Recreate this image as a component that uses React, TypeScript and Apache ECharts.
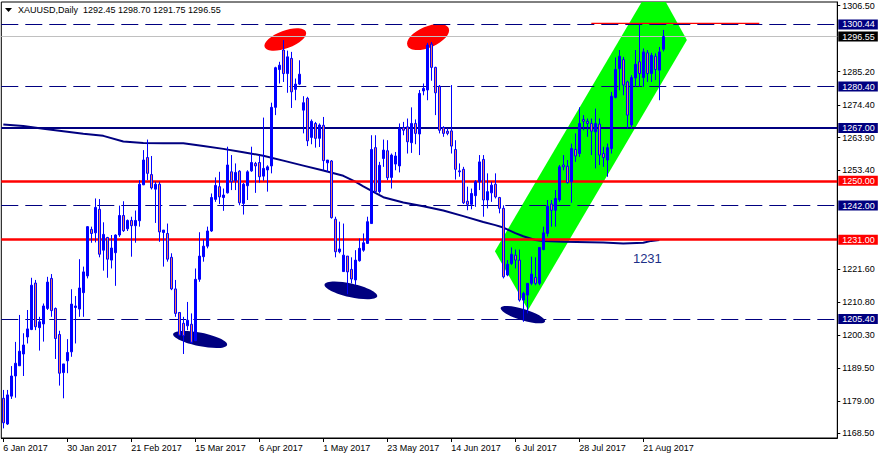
import React, { useEffect, useRef } from "react";
import * as echarts from "echarts";

// ---------- data ----------
const CLOSED_DAYS = ["2017-04-14"];
// [open, high, low, close] per trading day from 6 Jan 2017
const ohlc: [number, number, number, number][] = [
  [1179.8, 1182.5, 1170.1, 1171.9], [1171.5, 1182.5, 1171.2, 1180.9], [1180.5, 1190.2, 1179.6, 1187.0],
  [1187.0, 1198.0, 1180.0, 1191.1], [1190.3, 1206.7, 1190.3, 1195.0], [1194.1, 1200.8, 1187.0, 1197.0],
  [1199.6, 1208.3, 1197.5, 1202.2], [1202.0, 1218.7, 1201.8, 1216.3], [1217.0, 1218.0, 1201.8, 1202.9],
  [1202.6, 1206.1, 1195.2, 1204.5], [1203.8, 1210.4, 1198.1, 1209.6], [1208.8, 1219.0, 1208.3, 1217.3],
  [1218.5, 1219.9, 1206.1, 1208.1], [1208.8, 1209.1, 1192.5, 1199.1], [1200.4, 1201.6, 1183.9, 1187.9],
  [1188.1, 1190.9, 1179.8, 1190.9], [1191.9, 1198.9, 1187.9, 1194.6], [1194.8, 1215.0, 1193.2, 1210.2],
  [1209.1, 1212.8, 1197.5, 1209.6], [1208.6, 1224.7, 1206.1, 1215.4], [1213.9, 1222.3, 1206.1, 1220.6],
  [1219.3, 1235.4, 1218.5, 1235.2], [1234.3, 1235.2, 1230.0, 1233.0], [1233.2, 1244.3, 1230.1, 1241.4],
  [1240.8, 1244.1, 1225.3, 1226.3], [1227.6, 1236.6, 1221.0, 1232.7], [1231.7, 1231.9, 1218.7, 1224.7],
  [1224.4, 1232.5, 1221.7, 1228.3], [1226.8, 1232.7, 1216.1, 1232.5], [1232.5, 1242.0, 1231.9, 1238.8],
  [1238.8, 1243.4, 1233.5, 1233.9], [1234.5, 1237.5, 1233.8, 1237.2], [1237.2, 1238.4, 1225.5, 1235.5],
  [1235.5, 1240.4, 1230.0, 1237.2], [1237.1, 1250.2, 1235.2, 1248.9], [1248.7, 1259.9, 1248.6, 1256.7],
  [1257.5, 1263.3, 1250.2, 1252.4], [1252.0, 1258.0, 1247.2, 1247.7], [1247.3, 1249.7, 1236.4, 1248.9],
  [1248.9, 1249.7, 1230.3, 1233.5], [1233.3, 1234.1, 1222.3, 1234.1], [1233.0, 1236.2, 1223.9, 1224.7],
  [1225.3, 1226.6, 1214.7, 1215.1], [1215.1, 1218.0, 1206.1, 1207.2], [1207.5, 1207.5, 1200.0, 1200.2],
  [1204.0, 1206.1, 1194.1, 1200.0], [1203.2, 1210.9, 1201.8, 1205.0], [1203.7, 1207.2, 1197.5, 1197.9],
  [1198.4, 1221.7, 1198.4, 1218.2], [1218.2, 1233.4, 1217.4, 1225.7], [1225.5, 1231.1, 1223.9, 1228.9],
  [1228.9, 1235.2, 1228.2, 1233.8], [1233.8, 1245.9, 1233.5, 1244.6], [1244.0, 1251.1, 1243.2, 1248.5],
  [1248.1, 1252.9, 1242.5, 1244.8], [1244.6, 1247.5, 1240.3, 1245.4], [1246.1, 1261.0, 1245.9, 1255.1],
  [1252.9, 1258.3, 1247.0, 1249.7], [1250.0, 1255.6, 1247.0, 1252.7], [1253.1, 1253.4, 1242.1, 1242.9],
  [1242.7, 1249.3, 1239.1, 1248.9], [1248.4, 1253.4, 1243.8, 1252.9], [1253.2, 1261.0, 1252.9, 1255.9],
  [1255.6, 1256.1, 1246.1, 1254.8], [1255.9, 1258.3, 1249.4, 1251.3], [1251.5, 1270.4, 1250.0, 1254.0],
  [1253.5, 1255.0, 1246.5, 1254.5], [1254.8, 1275.2, 1252.4, 1273.7], [1273.7, 1286.8, 1271.2, 1286.5],
  [1285.9, 1288.4, 1281.4, 1287.3], [1292.2, 1295.4, 1281.9, 1284.6], [1284.6, 1292.0, 1278.4, 1290.0],
  [1289.5, 1291.6, 1273.5, 1278.7], [1279.5, 1283.0, 1276.0, 1281.2], [1281.2, 1288.9, 1280.9, 1284.4],
  [1272.8, 1277.3, 1265.3, 1275.2], [1276.6, 1277.1, 1261.2, 1262.9], [1264.0, 1269.8, 1261.8, 1269.2],
  [1268.5, 1269.0, 1260.7, 1263.7], [1263.7, 1268.5, 1260.9, 1268.0], [1267.9, 1270.6, 1253.4, 1256.5],
  [1255.8, 1256.7, 1252.9, 1256.7], [1256.4, 1256.7, 1237.8, 1238.1], [1237.6, 1238.4, 1225.3, 1227.1],
  [1227.1, 1236.8, 1226.6, 1228.0], [1220.7, 1236.2, 1220.7, 1226.0], [1225.7, 1225.7, 1213.4, 1220.6],
  [1221.4, 1225.3, 1216.9, 1218.3], [1218.0, 1227.6, 1216.3, 1224.4], [1224.2, 1231.4, 1223.9, 1228.2],
  [1227.6, 1233.0, 1227.1, 1230.0], [1229.8, 1238.4, 1229.6, 1236.8], [1236.2, 1264.7, 1236.2, 1260.1],
  [1260.7, 1264.7, 1245.9, 1246.5], [1246.5, 1256.1, 1245.9, 1255.0], [1257.2, 1263.3, 1254.5, 1259.9],
  [1259.7, 1263.1, 1250.2, 1251.0], [1251.1, 1258.8, 1247.5, 1258.3], [1255.4, 1259.3, 1253.4, 1258.0],
  [1254.8, 1268.5, 1252.7, 1266.9], [1267.2, 1269.0, 1264.7, 1266.3], [1267.4, 1270.1, 1258.8, 1262.6],
  [1262.3, 1273.7, 1259.0, 1268.5], [1268.5, 1269.8, 1261.8, 1265.3], [1265.1, 1279.3, 1258.3, 1278.2],
  [1279.0, 1281.4, 1277.6, 1279.8], [1279.3, 1294.5, 1276.0, 1293.8], [1294.1, 1294.8, 1282.3, 1286.6],
  [1286.6, 1286.8, 1271.2, 1278.4], [1280.5, 1280.9, 1265.3, 1266.3], [1267.2, 1267.6, 1264.2, 1265.3],
  [1266.0, 1267.0, 1264.7, 1265.3], [1266.1, 1280.9, 1258.8, 1261.2], [1260.1, 1263.1, 1250.4, 1253.7],
  [1253.2, 1255.6, 1251.3, 1252.9], [1253.7, 1254.5, 1242.5, 1242.9], [1243.4, 1248.1, 1240.5, 1242.4],
  [1242.4, 1247.5, 1240.8, 1245.9], [1245.2, 1250.2, 1241.6, 1249.7], [1249.7, 1258.3, 1247.0, 1256.1],
  [1256.9, 1258.3, 1238.4, 1243.8], [1243.8, 1252.4, 1241.1, 1246.5], [1246.1, 1249.7, 1243.2, 1248.6],
  [1248.9, 1252.4, 1244.3, 1244.8], [1244.6, 1244.8, 1239.5, 1241.1], [1241.1, 1242.1, 1218.5, 1219.0],
  [1219.6, 1224.4, 1219.2, 1223.1], [1223.3, 1228.5, 1222.8, 1226.3], [1226.0, 1227.8, 1221.7, 1224.4],
  [1224.4, 1227.8, 1211.0, 1211.5], [1211.5, 1214.2, 1204.5, 1213.7], [1213.1, 1216.9, 1207.2, 1216.9],
  [1216.9, 1225.5, 1216.3, 1219.9], [1218.8, 1225.3, 1216.3, 1216.9], [1216.9, 1228.5, 1216.3, 1228.5],
  [1227.8, 1235.2, 1227.6, 1233.2], [1233.0, 1243.8, 1232.0, 1241.8], [1242.5, 1243.8, 1235.2, 1240.5],
  [1240.5, 1247.0, 1235.2, 1244.3], [1243.8, 1255.1, 1243.2, 1254.5], [1255.1, 1258.3, 1253.4, 1254.5],
  [1254.7, 1256.7, 1249.1, 1249.4], [1249.7, 1262.0, 1242.9, 1260.4], [1260.1, 1265.3, 1256.1, 1258.0],
  [1258.8, 1273.7, 1257.7, 1268.5], [1269.8, 1271.2, 1266.3, 1269.2], [1269.2, 1270.1, 1264.2, 1268.5],
  [1268.5, 1270.1, 1258.3, 1266.0], [1265.8, 1273.3, 1254.0, 1268.5], [1268.3, 1270.1, 1255.1, 1258.3],
  [1258.8, 1261.0, 1254.5, 1257.5], [1256.7, 1262.0, 1251.3, 1260.7], [1260.4, 1278.7, 1258.8, 1277.3],
  [1276.9, 1289.8, 1276.6, 1285.9], [1286.2, 1292.2, 1279.2, 1290.2], [1289.1, 1290.0, 1277.6, 1280.9],
  [1281.9, 1282.3, 1266.9, 1271.2], [1268.0, 1284.1, 1266.9, 1283.3], [1283.2, 1292.2, 1280.3, 1287.6],
  [1288.4, 1300.5, 1280.3, 1284.6], [1283.3, 1292.7, 1280.3, 1291.6], [1291.3, 1292.2, 1281.9, 1284.6],
  [1284.6, 1291.3, 1281.9, 1290.5], [1290.2, 1291.1, 1282.5, 1285.9], [1285.7, 1293.2, 1276.0, 1291.6],
  [1292.45, 1298.7, 1291.75, 1296.55],
];

// moving average: [bar index, price]
const maPoints: [number, number][] = [
  [0, 1268.2], [5, 1267.7], [10, 1266.8], [15, 1266.0], [20, 1265.2], [25, 1264.5], [30, 1262.7],
  [35, 1262.2], [40, 1262.1], [45, 1262.1], [50, 1261.2], [55, 1260.3], [60, 1259.2], [65, 1258.1],
  [70, 1256.5], [75, 1254.9], [80, 1253.3], [85, 1251.6], [88, 1249.7], [90, 1248.2], [93, 1246.1],
  [95, 1244.7], [100, 1243.0], [105, 1241.8], [110, 1240.4], [115, 1238.6], [120, 1236.7], [123, 1235.7],
  [125, 1234.9], [128, 1233.1], [130, 1232.1], [133, 1230.9], [135, 1230.6], [140, 1230.3], [150, 1230.1],
  [155, 1229.8], [160, 1230.0], [162, 1230.6], [164, 1230.9],
];

// horizontal levels
const levelValues = [1300.44, 1296.55, 1280.4, 1267.0, 1250.0, 1242.0, 1231.0, 1205.4];
const levelKinds = ["dash", "bid", "dash", "navy", "red", "dash", "red", "dash"];

// price-axis tick labels
const yTickLabels = [1306.5, 1285.2, 1274.4, 1263.9, 1253.4, 1221.6, 1210.8, 1200.3, 1189.5, 1179.0, 1168.5];
const Y_MIN = 1166.99;
const Y_MAX = 1307.7;

// rising channel corners: [bar index, price]
const channelCorners: [number, number][] = [
  [122.9, 1227.3], [131.2, 1208.3], [170.9, 1295.4], [162.7, 1314.5],
];
// ellipse marks: centre [bar index, price]
const ellipseCenters: [number, number][] = [
  [70.5, 1295.6], [106.2, 1296.4], [49.2, 1198.8], [86.9, 1214.6], [129.9, 1206.8],
];
const ellipseKinds = ["red", "red", "navy", "navy", "navy"];
// short red line at top: [from bar, to bar, price]
const topRedLine: [number, number, number] = [147, 189, 1300.8];
// text note
const noteText = "1231";
const notePos: [number, number] = [157.4, 1224.8];

const TITLE = "XAUUSD,Daily  1292.45 1298.70 1291.75 1296.55";
const FUTURE_SLOTS = 43;
const LABEL_EVERY = 16;
const MONTHS = ["Jan", "Feb", "Mar", "Apr", "May", "Jun", "Jul", "Aug", "Sep", "Oct", "Nov", "Dec"];

function buildDates(n: number): string[] {
  const out: string[] = [];
  const d = new Date(Date.UTC(2017, 0, 6));
  while (out.length < n) {
    const wd = d.getUTCDay();
    const iso = d.toISOString().slice(0, 10);
    if (wd !== 0 && wd !== 6 && !CLOSED_DAYS.includes(iso)) out.push(iso);
    d.setUTCDate(d.getUTCDate() + 1);
  }
  return out;
}
const dates = buildDates(ohlc.length);
const categories = [...dates, ...Array.from({ length: FUTURE_SLOTS }, (_, i) => "f" + i)];

// ---------- styles ----------
const FONT = "Liberation Sans";
const NAVY = "#000080";
const levelStyle: Record<string, any> = {
  dash: { line: { color: NAVY, width: 1, type: [17, 7] }, bg: NAVY },
  bid: { line: { color: "#C0C0C0", width: 1, type: "solid" }, bg: "#000000" },
  navy: { line: { color: NAVY, width: 2, type: "solid" }, bg: NAVY },
  red: { line: { color: "#FF0000", width: 2.5, type: "solid" }, bg: "#FF0000" },
};
const ellipseStyle: { rx: number; ry: number; rot: number }[] = [
  { rx: 22, ry: 8.9, rot: 0.35 },
  { rx: 22.4, ry: 10.5, rot: 0.4 },
  { rx: 27.5, ry: 6.7, rot: -0.2 },
  { rx: 27, ry: 6.8, rot: -0.22 },
  { rx: 23.2, ry: 5.6, rot: -0.3 },
];
const ellipseColor: Record<string, string> = { red: "#FF0000", navy: NAVY };

function toPx(api: any, bar: number, price: number): number[] {
  const i = Math.floor(bar);
  const f = bar - i;
  const a = api.coord([i, price]);
  const b = api.coord([i + 1, price]);
  return [a[0] + (b[0] - a[0]) * f, a[1]];
}

function clipTop(pts: number[][], top: number): number[][] {
  const out: number[][] = [];
  for (let k = 0; k < pts.length; k++) {
    const a = pts[k];
    const b = pts[(k + 1) % pts.length];
    const ain = a[1] >= top;
    const bin = b[1] >= top;
    if (ain) out.push(a);
    if (ain !== bin) {
      const t = (top - a[1]) / (b[1] - a[1]);
      out.push([a[0] + t * (b[0] - a[0]), top]);
    }
  }
  return out;
}

function fmtDate(v: string): string {
  if (!/^\d{4}-/.test(v)) return "";
  const [y, m, d] = v.split("-");
  return `${parseInt(d, 10)} ${MONTHS[parseInt(m, 10) - 1]} ${y}`;
}

const showLabel = (i: number) => i < dates.length && i % LABEL_EVERY === 0;

export default function App() {
  const ref = useRef<HTMLDivElement>(null);
  useEffect(() => {
    if (!ref.current) return;
    const chart = echarts.init(ref.current, null, { renderer: "svg" });
    const option: any = {
      animation: false,
      backgroundColor: "#FFFFFF",
      textStyle: { fontFamily: FONT },
      grid: {
        left: 1.3,
        top: 2,
        width: 4 * categories.length,
        height: 436,
        show: true,
        borderColor: "#000",
        borderWidth: 1,
        backgroundColor: "transparent",
      },
      xAxis: {
        type: "category",
        data: categories,
        boundaryGap: true,
        axisLine: { show: true, lineStyle: { color: "#000", width: 1 } },
        axisTick: {
          show: true,
          alignWithLabel: true,
          interval: (i: number) => showLabel(i),
          length: 4,
          lineStyle: { color: "#000" },
        },
        axisLabel: {
          interval: (i: number) => showLabel(i),
          formatter: (v: string) => fmtDate(v),
          align: "left",
          margin: 5,
          fontSize: 9,
          fontFamily: FONT,
          color: "#000",
        },
        splitLine: { show: false },
      },
      yAxis: {
        type: "value",
        position: "right",
        min: Y_MIN,
        max: Y_MAX,
        axisLine: { show: true, lineStyle: { color: "#000" } },
        axisTick: { show: true, length: 3, customValues: yTickLabels, lineStyle: { color: "#000" } },
        axisLabel: {
          customValues: yTickLabels,
          formatter: (v: number) => v.toFixed(2),
          margin: 5,
          fontSize: 9,
          fontFamily: FONT,
          color: "#000",
        },
        splitLine: { show: false },
      },
      graphic: [
        { type: "polygon", shape: { points: [[5, 8], [12, 8], [8.5, 12]] }, style: { fill: "#000" } },
        {
          type: "text",
          x: 18,
          y: 10,
          style: { text: TITLE, font: `9px "${FONT}"`, fill: "#000", textVerticalAlign: "middle", verticalAlign: "middle" },
        },
      ],
      series: [
        {
          type: "custom",
          name: "channel",
          z: 1,
          silent: true,
          data: [[Math.round(channelCorners[0][0]), channelCorners[0][1]]],
          renderItem: (params: any, api: any) => {
            const cs = params.coordSys;
            const pts = channelCorners.map(([b, p]) => toPx(api, b, p));
            return {
              type: "polygon",
              shape: { points: clipTop(pts, cs.y) },
              style: { fill: "#00FF00" },
            };
          },
        },
        {
          type: "line",
          name: "ma",
          z: 2,
          silent: true,
          symbol: "none",
          data: maPoints,
          lineStyle: { color: NAVY, width: 2 },
          markLine: {
            silent: true,
            symbol: ["none", "none"],
            animation: false,
            data: levelValues.map((v, i) => {
              const st = levelStyle[levelKinds[i]];
              return {
                yAxis: v,
                lineStyle: st.line,
                label: {
                  show: true,
                  position: "end",
                  distance: 1,
                  formatter: () => v.toFixed(2),
                  color: "#FFFFFF",
                  backgroundColor: st.bg,
                  padding: [1, 3, 0, 4],
                  fontSize: 9,
                  lineHeight: 9,
                  fontFamily: FONT,
                },
              };
            }),
          },
        },
        {
          type: "line",
          name: "topRed",
          z: 2,
          silent: true,
          symbol: "none",
          data: [
            [topRedLine[0], topRedLine[2]],
            [topRedLine[1], topRedLine[2]],
          ],
          lineStyle: { color: "#FF0000", width: 1.3 },
        },
        {
          type: "custom",
          name: "ellipses",
          z: 3,
          silent: true,
          data: ellipseCenters.map(([b, p]) => [Math.round(b), p]),
          renderItem: (params: any, api: any) => {
            const idx = params.dataIndex;
            const [b, p] = ellipseCenters[idx];
            const c = toPx(api, b, p);
            const s = ellipseStyle[idx];
            return {
              type: "ellipse",
              x: c[0],
              y: c[1],
              rotation: s.rot,
              shape: { cx: 0, cy: 0, rx: s.rx, ry: s.ry },
              style: { fill: ellipseColor[ellipseKinds[idx]] },
            };
          },
        },
        {
          type: "candlestick",
          name: "XAUUSD",
          z: 5,
          silent: true,
          barWidth: 2,
          data: ohlc.map(([o, h, l, c]) => [o, c, l, h]),
          itemStyle: {
            color: "#0000FF",
            color0: "#F07860",
            borderColor: "#0000FF",
            borderColor0: "#0000FF",
            borderColorDoji: "#0000FF",
            borderWidth: 1,
          },
        },
        {
          type: "custom",
          name: "note",
          z: 6,
          silent: true,
          data: [[Math.round(notePos[0]), notePos[1]]],
          renderItem: (params: any, api: any) => {
            const c = toPx(api, notePos[0], notePos[1]);
            return {
              type: "text",
              x: c[0],
              y: c[1],
              style: {
                text: noteText,
                font: `13px "${FONT}"`,
                fill: "#1c2f87",
                textAlign: "left",
                textVerticalAlign: "middle",
                verticalAlign: "middle",
              },
            };
          },
        },
      ],
    };
    chart.setOption(option);
    return () => chart.dispose();
  }, []);
  return (
    <div
      ref={ref}
      style={{ position: "fixed", left: 0, top: 0, width: 879, height: 459, background: "#fff" }}
    />
  );
}
